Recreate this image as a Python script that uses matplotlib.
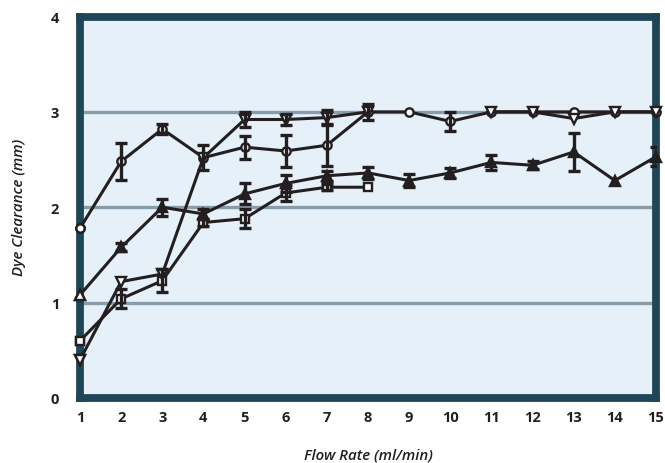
import numpy as np
import matplotlib
matplotlib.use("Agg")
import matplotlib.pyplot as plt

plt.rcParams.update({
    "font.family": ["Open Sans", "DejaVu Sans"],
    "font.size": 10,
})

flow = np.arange(1, 16)
nan = np.nan

circle_y = [1.78, 2.48, 2.82, 2.52, 2.63, 2.59, 2.65, 3.00, 3.00, 2.90, 3.00, 3.00, 3.00, 3.00, 3.00]
circle_err = [0, 0.19, 0.05, 0.13, 0.12, 0.17, 0.22, 0, 0, 0.10, 0, 0, 0, 0, 0]

down_y = [0.40, 1.22, 1.30, 2.52, 2.92, 2.92, 2.94, 3.00, nan, nan, 3.00, 3.00, 2.93, 3.00, 3.00]
down_err = [0, 0, 0, 0, 0.08, 0.06, 0.08, 0.08, 0, 0, 0, 0, 0, 0, 0]

up_y = [1.08, 1.58, 2.00, 1.93, 2.14, 2.25, 2.33, 2.36, 2.28, 2.36, 2.47, 2.44, 2.58, 2.28, 2.53]
up_err = [0, 0.04, 0.09, 0.05, 0.11, 0.09, 0.05, 0.06, 0.07, 0.05, 0.08, 0.04, 0.20, 0, 0.10]

square_y = [0.60, 1.04, 1.23, 1.84, 1.88, 2.15, 2.21, 2.21, nan, nan, nan, nan, nan, nan, nan]
square_err = [0, 0.10, 0.12, 0.04, 0.10, 0.08, 0.03, 0, 0, 0, 0, 0, 0, 0, 0]

INK = "#231f20"
FRAME = "#1f4656"
BG = "#e6f0f9"
GRID = "#879dab"

fig = plt.figure(figsize=(6.65, 4.64), dpi=100)
ax = fig.add_axes([80 / 665, 1 - 399 / 464, 576 / 665, 381.5 / 464])
ax.set_facecolor(BG)

for g in [1, 2, 3]:
    ax.axhline(g, color=GRID, linewidth=2.4, zorder=1)

series = [
    (square_y, square_err, "s", 6, "white"),
    (up_y, up_err, "^", 7.5, INK),
    (circle_y, circle_err, "o", 6, "white"),
    (down_y, down_err, "v", 7.5, "white"),
]

for k, (ys, errs, mk, ms, fc) in enumerate(series):
    ys = np.array(ys, dtype=float)
    errs = np.array(errs, dtype=float)
    ax.plot(flow, ys, color=INK, linewidth=2.2, marker=mk, markersize=ms,
            markerfacecolor=fc, markeredgecolor=INK, markeredgewidth=1.7,
            clip_on=False, zorder=3 + k)
    # first point sits on the frame with a white fill
    ax.plot(flow[:1], ys[:1], linestyle="none", marker=mk, markersize=ms,
            markerfacecolor="white", markeredgecolor=INK, markeredgewidth=1.7,
            clip_on=False, zorder=10)
    m = errs > 0
    ax.errorbar(flow[m], ys[m], yerr=errs[m], fmt="none", ecolor=INK,
                elinewidth=2.4, capsize=4.5, capthick=2.4, zorder=8)

ax.set_xlim(1, 15)
ax.set_ylim(0, 4)
ax.set_xticks(flow)
ax.set_yticks([0, 1, 2, 3, 4])
ax.tick_params(length=0, colors=INK, labelsize=10.5)
ax.tick_params(axis="y", pad=15)
ax.tick_params(axis="x", pad=9)
for lab in ax.get_xticklabels() + ax.get_yticklabels():
    lab.set_fontweight("bold")

for sp in ax.spines.values():
    sp.set_color(FRAME)
    sp.set_linewidth(5.6)
    sp.set_zorder(2)

fig.text(368 / 665, 1 - 456 / 464, "Flow Rate (ml/min)", ha="center", va="center",
         fontsize=10.8, style="italic", fontweight="semibold", color=INK)
fig.text(19 / 665, 1 - 207 / 464, "Dye Clearance (mm)", ha="center", va="center",
         rotation=90, fontsize=10.8, style="italic", fontweight="semibold", color=INK)

fig.savefig("out.png", dpi=100, facecolor="white")
